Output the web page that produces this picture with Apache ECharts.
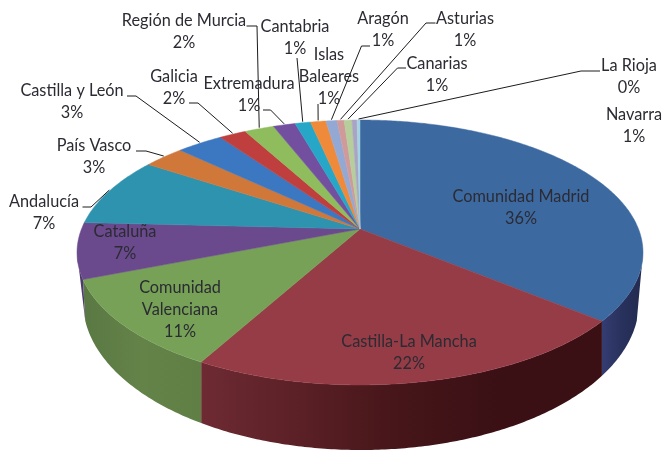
<!DOCTYPE html>
<html><head><meta charset="utf-8">
<style>html,body{margin:0;padding:0;background:#fff}#c{width:663px;height:452px}</style>
<script src="https://cdn.jsdelivr.net/npm/echarts@6/dist/echarts.min.js"></script>
</head><body><div id="c"></div>
<script>
const regions = ['Comunidad Madrid','Castilla-La Mancha','Comunidad\nValenciana','Cataluña','Andalucía','País Vasco','Castilla y León','Galicia','Región de Murcia','Extremadura','Cantabria','Islas\nBaleares','Aragón','Asturias','Canarias','Navarra','La Rioja'];
const shares = [36,22,11,6.8,8.5,2.8,3.15,1.85,2,1.5,1.05,1.05,0.75,0.48,0.53,0.34,0.2];
const shownPercent = [36,22,11,7,7,3,3,2,2,1,1,1,1,1,1,1,0];
const topColors = ['#3d69a1','#963c46','#76a156','#6a4a8c','#2e93ae','#d0773a','#3b78c1','#bf3f3e','#8fbc5c','#72509f','#27a7c8','#ef8a3b','#93a9d3','#d09a9a','#b6cd9c','#a9a3c4','#a6d3e2'];
const sideColors = [['#353c72','#28315c','#232b50'],['#6e2a33','#5a2025','#451519','#3a1015','#3a1015'],['#5a7843','#648349','#5f7f45'],['#4b3a6b','#4b3a6b'],['#1f6a7c','#1f6a7c'],['#8f5228','#8f5228'],['#2a568a','#2a568a'],['#862d2c','#862d2c'],['#658541','#658541'],['#513971','#513971'],['#1c768e','#1c768e'],['#a9622a','#a9622a'],['#6e7d99','#6e7d99'],['#996e6e','#996e6e'],['#83926d','#83926d'],['#78748b','#78748b'],['#7695a0','#7695a0']];
// label anchor: centre x, y of first line
const labelAnchors = [[521,197],[409,342],[180,288],[125,232],[44,202],[94,146],[72,91],[174,77],[184,21],[249,84],[295,27],[329,55],[383,19],[465,19],[437,64],[634,115],[629,66]];
// leader elbows (null = label sits on the slice or has no leader)
const leaderPaths = [null,null,null,null,[[82.5,207],[91,207]],[[136,151],[146,151]],[[127,96],[136,96]],[[189,103],[198,103]],[[246.5,26],[257,26]],[[263,110],[270.6,110]],[[297,58]],[[318,104]],[[370,46],[361.5,46]],[[435.5,23],[426,23]],[[406,68],[397.5,68]],null,[[600,71],[581,71]]];

// perspective disc (top face) and the narrower ellipse of the lower rim
const CX=360, CY=229, A=278.5, B=128.3, K=0.1773;
const LOW={cx:361,cy:302,rx:278,ry:148};
// the wall is visible between the two silhouette tangents of the top face
const tangent=Math.acos(-K);
const FRONT=[tangent,Math.PI*2-tangent];
const total = shares.reduce((a,b)=>a+b,0);
const starts = []; shares.reduce((s,v,i)=>{starts[i]=s;return s+v;},0);
const ang = v => v/total*Math.PI*2;
function proj(t){
  const x=Math.sin(t), y=-Math.cos(t), w=1-K*y;
  return [CX+A*x/w, CY+B*y/w];
}
function lower(pt){
  const u=Math.max(-0.992,Math.min(0.992,(pt[0]-LOW.cx)/LOW.rx));
  return [LOW.cx+u*LOW.rx, LOW.cy+LOW.ry*Math.sqrt(1-u*u)];
}
function arc(a0,a1){
  const n=Math.max(2,Math.ceil((a1-a0)/0.01)), p=[];
  for(let j=0;j<=n;j++) p.push(proj(a0+(a1-a0)*j/n));
  return p;
}
const F='16.3px Lato, "Open Sans", sans-serif';
const idx = regions.map((r,i)=>[i,shares[i]]);
const base = {type:'custom',coordinateSystem:'none',data:idx,silent:true,clip:false,animation:false};
const grad = c => ({type:'linear',x:0,y:0,x2:1,y2:0,colorStops:c.map((k,i)=>({offset:c.length>1?i/(c.length-1):0,color:k}))});
const series = [
 Object.assign({},base,{name:'sides',z:1,renderItem(p){
   const i=p.dataIndex, a0=Math.max(FRONT[0],ang(starts[i])), a1=Math.min(FRONT[1],ang(starts[i]+shares[i]));
   if(a1<=a0) return null;
   const top=arc(a0,a1);
   const pts=top.concat(top.map(lower).reverse());
   return {type:'polygon',shape:{points:pts},style:{fill:grad(sideColors[i]),stroke:null}};
 }}),
 Object.assign({},base,{name:'tops',z:2,renderItem(p){
   const i=p.dataIndex, a0=ang(starts[i]), a1=ang(starts[i]+shares[i]);
   const pts=[[CX,CY]].concat(arc(a0,a1));
   return {type:'polygon',shape:{points:pts},style:{fill:topColors[i],stroke:topColors[i],lineWidth:0.5}};
 }}),
 Object.assign({},base,{name:'leaders',z:3,renderItem(p){
   const i=p.dataIndex; if(!leaderPaths[i]) return null;
   const end=proj(ang(starts[i]+shares[i]/2));
   return {type:'polyline',shape:{points:leaderPaths[i].concat([[end[0],end[1]-1]])},style:{fill:null,stroke:'#1c1c1c',lineWidth:1}};
 }}),
 Object.assign({},base,{name:'labels',z:4,renderItem(p){
   const i=p.dataIndex, a=labelAnchors[i];
   return {type:'text',style:{text:regions[i]+'\n'+shownPercent[i]+'%',x:a[0],y:a[1]-11,align:'center',verticalAlign:'top',font:F,lineHeight:21.7,fill:'#2b2b33'}};
 }})
];
const chart = echarts.init(document.getElementById('c'),null,{renderer:'canvas'});
chart.setOption({animation:false,backgroundColor:'#fff',series});
</script></body></html>
